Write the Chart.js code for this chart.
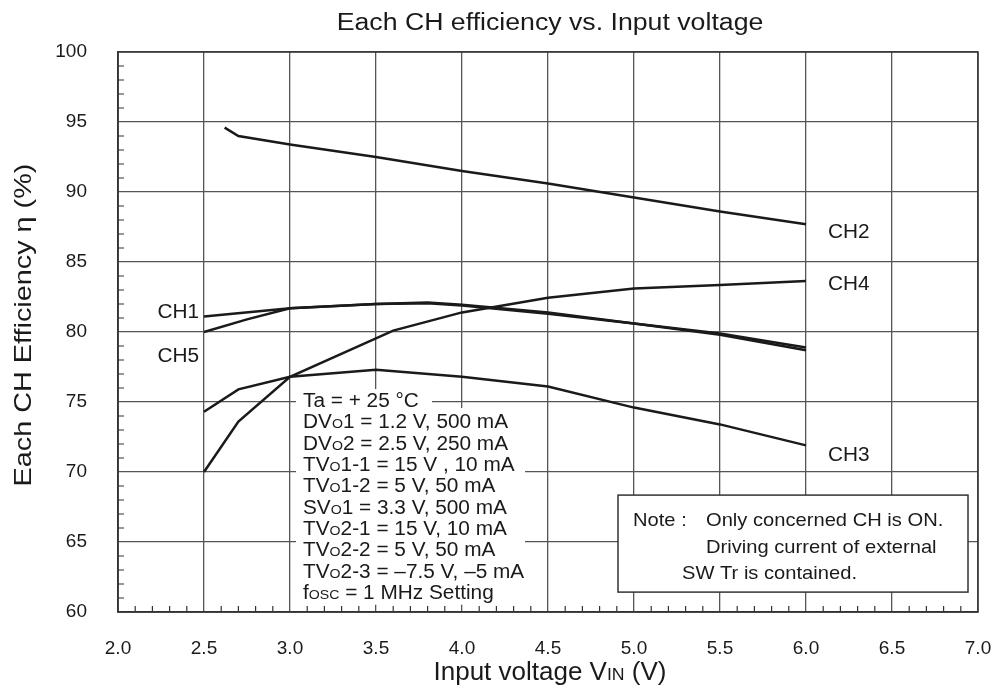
<!DOCTYPE html>
<html lang="en">
<head>
<meta charset="UTF-8">
<title>Each CH efficiency vs. Input voltage</title>
<script src="https://cdn.jsdelivr.net/npm/chart.js"></script>
<style>
  html, body { margin: 0; padding: 0; background: #fff; }
  .chart-box { width: 997px; height: 687px; }
</style>
</head>
<body>
<div class="chart-box"><canvas id="effChart" width="997" height="687"></canvas></div>
<script>
// input voltage (V) and efficiency (%)
const ch1Vin = [2.5, 3.0, 3.5, 3.8, 4.0, 4.5, 5.0, 5.5, 6.0];
const ch1Eff = [81.1, 81.7, 82.0, 82.05, 81.9, 81.3, 80.6, 79.9, 78.9];
const ch2Vin = [2.62, 2.7, 3.0, 3.5, 4.0, 4.5, 5.0, 5.5, 6.0];
const ch2Eff = [94.6, 94.0, 93.4, 92.5, 91.5, 90.6, 89.6, 88.6, 87.7];
const ch3Vin = [2.5, 2.7, 3.0, 3.5, 4.0, 4.5, 5.0, 5.5, 6.0];
const ch3Eff = [74.3, 75.9, 76.8, 77.3, 76.8, 76.1, 74.6, 73.4, 71.9];
const ch4Vin = [2.5, 2.7, 3.0, 3.6, 4.0, 4.5, 5.0, 5.5, 6.0];
const ch4Eff = [70.0, 73.6, 76.8, 80.1, 81.4, 82.45, 83.1, 83.35, 83.65];
const ch5Vin = [2.5, 2.75, 3.0, 3.5, 3.8, 4.0, 4.5, 5.0, 5.5, 6.0];
const ch5Eff = [80.0, 80.9, 81.7, 82.0, 82.1, 81.95, 81.4, 80.6, 79.8, 78.7];

const xTicks = [2.0, 2.5, 3.0, 3.5, 4.0, 4.5, 5.0, 5.5, 6.0, 6.5, 7.0];
const yTicks = [60, 65, 70, 75, 80, 85, 90, 95, 100];

const titleText = 'Each CH efficiency vs. Input voltage';
const xTitle = 'Input voltage V{IN} (V)';
const yTitle = 'Each CH Efficiency η (%)';
const condLines = [
    'Ta = + 25 °C',
    'DV{O}1 = 1.2 V, 500 mA',
    'DV{O}2 = 2.5 V, 250 mA',
    'TV{O}1-1 = 15 V , 10 mA',
    'TV{O}1-2 = 5 V, 50 mA',
    'SV{O}1 = 3.3 V, 500 mA',
    'TV{O}2-1 = 15 V, 10 mA',
    'TV{O}2-2 = 5 V, 50 mA',
    'TV{O}2-3 = –7.5 V, –5 mA',
    'f{OSC} = 1 MHz Setting'
];
const noteLines = ['Only concerned CH is ON.', 'Driving current of external', 'SW Tr is contained.'];

const FONT = "'Liberation Sans', Arial, sans-serif";
const INK = '#1a1a1a';

function pts(xs, ys) {
    return xs.map((x, i) => ({ x, y: ys[i] }));
}

// text with {small caps} parts, cy = vertical centre of the capitals
function drawRich(ctx, str, x, cy, size, align, sx) {
    sx = sx || 1;
    const parts = str.split(/(\{[^}]*\})/).filter(Boolean).map(s =>
        s[0] === '{' ? { t: s.slice(1, -1), size: size * 0.68 } : { t: s, size });
    ctx.save();
    ctx.textBaseline = 'alphabetic';
    ctx.textAlign = 'left';
    let w = 0;
    parts.forEach(p => {
        ctx.font = p.size + 'px ' + FONT;
        p.w = ctx.measureText(p.t).width;
        w += p.w;
    });
    let x0 = x;
    if (align === 'center') x0 = x - w * sx / 2;
    if (align === 'right') x0 = x - w * sx;
    ctx.translate(x0, cy + size * 0.358);
    ctx.scale(sx, 1);
    ctx.fillStyle = INK;
    let cx = 0;
    parts.forEach(p => {
        ctx.font = p.size + 'px ' + FONT;
        ctx.fillText(p.t, cx, 0);
        cx += p.w;
    });
    ctx.restore();
    return w * sx;
}

const decorPlugin = {
    id: 'decor',
    beforeDatasetsDraw(chart) {
        const ctx = chart.ctx, xs = chart.scales.x, ys = chart.scales.y, a = chart.chartArea;

        // minor ticks on the inside of the bottom and left axes
        ctx.save();
        ctx.strokeStyle = '#333';
        ctx.lineWidth = 1.2;
        ctx.beginPath();
        for (let i = 21; i < 70; i++) {
            if (i % 5 === 0) continue;
            const px = xs.getPixelForValue(i / 10);
            ctx.moveTo(px, a.bottom);
            ctx.lineTo(px, a.bottom - 6);
        }
        for (let v = 61; v < 100; v++) {
            if (v % 5 === 0) continue;
            const py = ys.getPixelForValue(v);
            ctx.moveTo(a.left, py);
            ctx.lineTo(a.left + 6, py);
        }
        ctx.stroke();
        ctx.restore();

        // conditions block
        const tx = xs.getPixelForValue(3.0) + 13;
        const top = ys.getPixelForValue(75) - 2;
        const lh = 21.3;
        ctx.save();
        ctx.fillStyle = '#fff';
        ctx.fillRect(tx - 7, top - 11, 136, 20);
        ctx.fillRect(tx - 7, top + 8, 229, lh * 9 + 5);
        ctx.restore();
        condLines.forEach((s, i) => drawRich(ctx, s, tx, top + i * lh, 20, 'left', 1.04));

        // note box
        const bx = xs.getPixelForValue(5.0) - 16, by = ys.getPixelForValue(68.35);
        const bw = 350, bh = 97;
        ctx.save();
        ctx.fillStyle = '#fff';
        ctx.fillRect(bx, by, bw, bh);
        ctx.strokeStyle = '#333';
        ctx.lineWidth = 1.5;
        ctx.strokeRect(bx, by, bw, bh);
        ctx.restore();
        drawRich(ctx, 'Note :', bx + 15, by + 24, 19, 'left', 1.06);
        drawRich(ctx, noteLines[0], bx + 88, by + 24, 19, 'left', 1.06);
        drawRich(ctx, noteLines[1], bx + 88, by + 51, 19, 'left', 1.06);
        drawRich(ctx, noteLines[2], bx + 64, by + 77, 19, 'left', 1.06);
    },
    afterDraw(chart) {
        const ctx = chart.ctx, xs = chart.scales.x, ys = chart.scales.y, a = chart.chartArea;

        // frame
        ctx.save();
        ctx.strokeStyle = '#333';
        ctx.lineWidth = 1.5;
        ctx.strokeRect(a.left, a.top, a.right - a.left, a.bottom - a.top);
        ctx.restore();

        // titles
        drawRich(ctx, titleText, 550, 22, 23, 'center', 1.16);
        drawRich(ctx, xTitle, 550, 671, 25, 'center', 1.04);
        ctx.save();
        ctx.translate(22, 325);
        ctx.rotate(-Math.PI / 2);
        drawRich(ctx, yTitle, 0, 0, 24, 'center', 1.2);
        ctx.restore();

        // curve labels
        const lx = xs.getPixelForValue(6.0) + 22;
        drawRich(ctx, 'CH2', lx, ys.getPixelForValue(87.2), 20, 'left', 1.04);
        drawRich(ctx, 'CH4', lx, ys.getPixelForValue(83.5), 20, 'left', 1.04);
        drawRich(ctx, 'CH3', lx, ys.getPixelForValue(71.3), 20, 'left', 1.04);
        const rx = xs.getPixelForValue(2.5) - 5;
        drawRich(ctx, 'CH1', rx, ys.getPixelForValue(81.5), 20, 'right', 1.04);
        drawRich(ctx, 'CH5', rx, ys.getPixelForValue(78.4), 20, 'right', 1.04);
    }
};

const lineStyle = {
    borderColor: INK,
    borderWidth: 2.5,
    pointRadius: 0,
    tension: 0,
    fill: false
};

new Chart(document.getElementById('effChart'), {
    type: 'line',
    data: {
        datasets: [
            { label: 'CH1', data: pts(ch1Vin, ch1Eff), ...lineStyle },
            { label: 'CH2', data: pts(ch2Vin, ch2Eff), ...lineStyle },
            { label: 'CH3', data: pts(ch3Vin, ch3Eff), ...lineStyle },
            { label: 'CH4', data: pts(ch4Vin, ch4Eff), ...lineStyle },
            { label: 'CH5', data: pts(ch5Vin, ch5Eff), ...lineStyle }
        ]
    },
    options: {
        responsive: false,
        devicePixelRatio: 1,
        animation: false,
        layout: { padding: { top: 52, right: 19, left: 0, bottom: 0 } },
        plugins: {
            legend: { display: false },
            tooltip: { enabled: false },
            title: { display: false }
        },
        scales: {
            x: {
                type: 'linear',
                min: 2,
                max: 7,
                afterBuildTicks: s => { s.ticks = xTicks.map(v => ({ value: v })); },
                afterFit: s => { s.height = 75; s.paddingLeft = 0; s.paddingRight = 0; },
                grid: { color: '#555', lineWidth: 1.3, drawTicks: false },
                border: { color: '#333', width: 1.5 },
                ticks: {
                    color: INK,
                    padding: 25,
                    font: { family: FONT, size: 19 },
                    callback: v => Number(v).toFixed(1)
                }
            },
            y: {
                min: 60,
                max: 100,
                afterBuildTicks: s => { s.ticks = yTicks.map(v => ({ value: v })); },
                afterFit: s => { s.width = 118; s.paddingTop = 0; s.paddingBottom = 0; },
                grid: { color: '#555', lineWidth: 1.3, drawTicks: false },
                border: { color: '#333', width: 1.5 },
                ticks: {
                    color: INK,
                    padding: 31,
                    font: { family: FONT, size: 19 }
                }
            }
        }
    },
    plugins: [decorPlugin]
});
</script>
</body>
</html>
